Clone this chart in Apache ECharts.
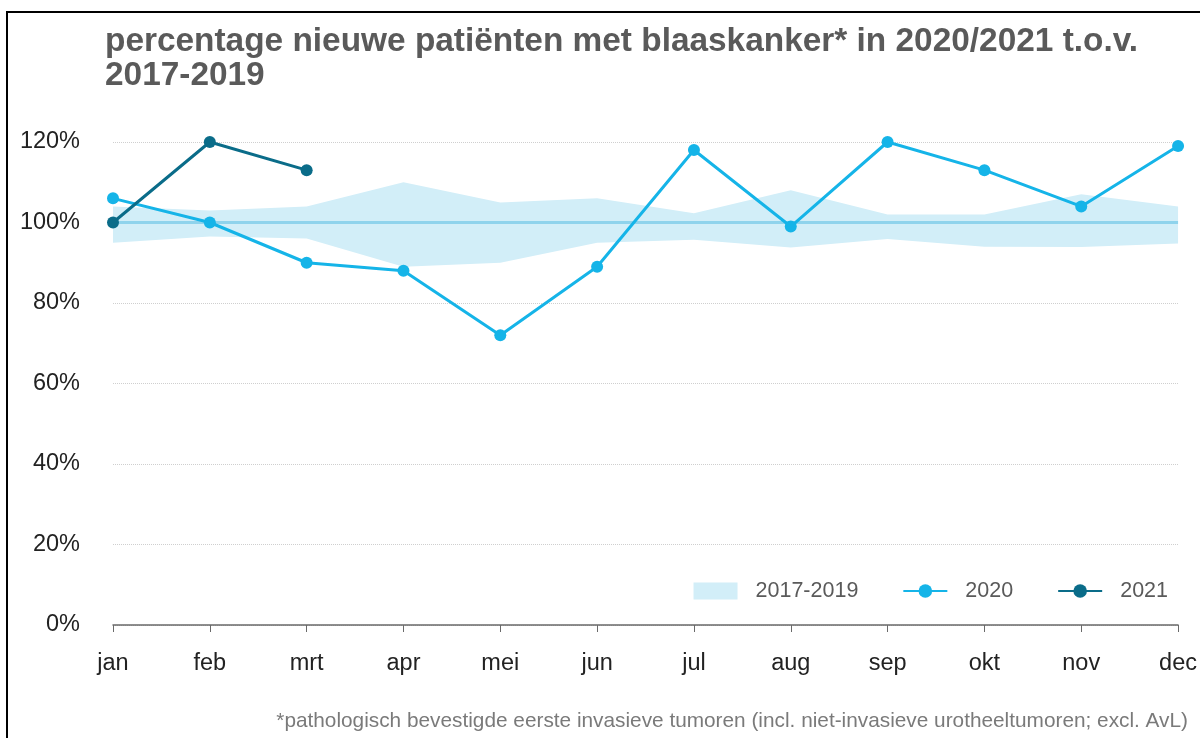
<!DOCTYPE html>
<html><head><meta charset="utf-8">
<script src="https://cdn.jsdelivr.net/npm/echarts@6/dist/echarts.min.js"></script>
<style>html,body{margin:0;padding:0;background:#fff}#c{width:1200px;height:738px}</style>
</head><body><div id="c"></div>
<script>
var months = ['jan','feb','mrt','apr','mei','jun','jul','aug','sep','okt','nov','dec'];
var bandLow  = [95, 96.5, 96, 89, 90, 95, 95.7, 93.8, 95.9, 94, 93.9, 94.8];
var bandHigh = [104, 103, 104, 110, 105, 106, 102.3, 108, 102, 102, 107, 104];
var baseline = [100,100,100,100,100,100,100,100,100,100,100,100];
var s2020 = [106, 100, 90, 88, 72, 89, 118, 99, 120, 113, 104, 119];
var s2021 = [100, 120, 113];
var yTicks = [0, 20, 40, 60, 80, 100, 120];

var bandDiff = bandHigh.map(function(h,i){ return +(h - bandLow[i]).toFixed(2); });
var chart = echarts.init(document.getElementById('c'));
chart.setOption({
  animation: false,
  textStyle: { fontFamily: 'Liberation Sans, Arial, sans-serif' },
  title: [
    { text: 'percentage nieuwe patiënten met blaaskanker* in 2020/2021 t.o.v.\n2017-2019',
      left: 105, top: 25, padding: 0,
      textStyle: { fontSize: 33.4, fontWeight: 'bold', color: '#5a5a5a', lineHeight: 34 } },
    { text: '*pathologisch bevestigde eerste invasieve tumoren (incl. niet-invasieve urotheeltumoren; excl. AvL)',
      right: 12, top: 711, padding: 0,
      textStyle: { fontSize: 20.8, fontWeight: 'normal', color: '#7a7a7a' } }
  ],
  graphic: [{ type: 'rect', shape: { x: 7, y: 12, width: 1210, height: 740 },
    style: { fill: 'none', stroke: '#000', lineWidth: 2 }, silent: true }],
  legend: {
    right: 32, top: 580, itemGap: 44, itemWidth: 44, itemHeight: 17, padding: 0,
    textStyle: { fontSize: 21.5, color: '#5a5a5a', padding: [0, 0, 0, 13] },
    data: [{ name: '2017-2019', icon: 'rect' }, { name: '2020' }, { name: '2021' }]
  },
  grid: { left: 113, right: 19, top: 142, bottom: 113 },
  xAxis: {
    type: 'category', data: months, boundaryGap: false,
    axisLine: { lineStyle: { color: '#6a6a6a', width: 1.5 } },
    axisTick: { alignWithLabel: true, length: 7, lineStyle: { color: '#6a6a6a' } },
    axisLabel: { fontSize: 23.5, color: '#222', margin: 27 },
    splitLine: { show: false }
  },
  yAxis: {
    type: 'value', min: yTicks[0], max: yTicks[yTicks.length-1], interval: 20,
    axisLine: { show: false }, axisTick: { show: false },
    axisLabel: { fontSize: 23.5, color: '#222', margin: 33, formatter: '{value}%' },
    splitLine: { lineStyle: { color: '#cfcfcf', type: 'dotted' } }
  },
  series: [
    { name: 'bandlow', type: 'line', data: bandLow, stack: 'band', symbol: 'none',
      lineStyle: { opacity: 0 }, areaStyle: { opacity: 0 }, silent: true },
    { name: '2017-2019', type: 'line', data: bandDiff, stack: 'band', symbol: 'none',
      itemStyle: { color: '#d2eef8' },
      lineStyle: { opacity: 0 }, areaStyle: { color: '#d2eef8', opacity: 1 }, silent: true },
    { name: '2017-2019 gem', type: 'line', data: baseline, symbol: 'none',
      lineStyle: { color: '#8fd3ec', width: 3 } },
    { name: '2020', type: 'line', data: s2020, symbol: 'circle', symbolSize: 12,
      itemStyle: { color: '#15b4e8' }, lineStyle: { color: '#15b4e8', width: 3 } },
    { name: '2021', type: 'line', data: s2021, symbol: 'circle', symbolSize: 12,
      itemStyle: { color: '#0a6c89' }, lineStyle: { color: '#0a6c89', width: 3 } }
  ]
});
</script></body></html>
